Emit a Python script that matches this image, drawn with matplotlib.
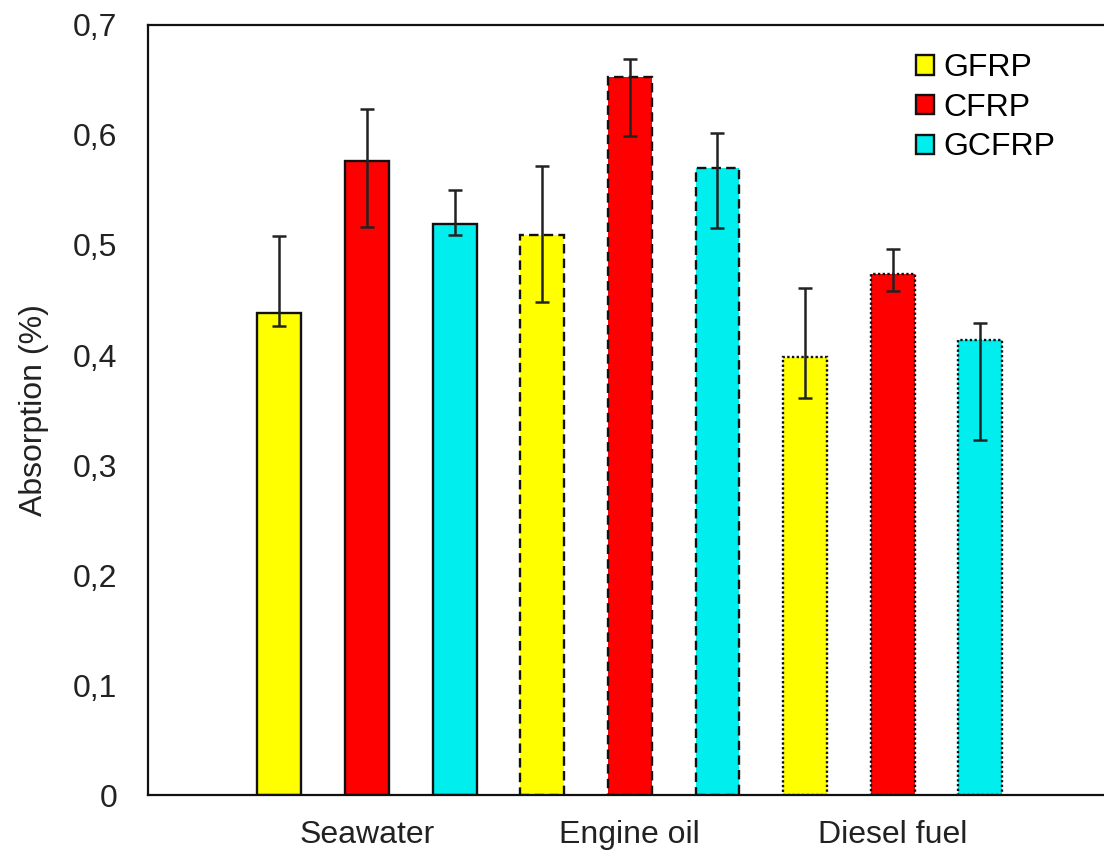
import numpy as np
import matplotlib
matplotlib.use("Agg")
import matplotlib.pyplot as plt
from matplotlib.patches import Patch

# absorption (%) per medium and laminate, with lower/upper ends of the error bars
media = ["Seawater", "Engine oil", "Diesel fuel"]
materials = ["GFRP", "CFRP", "GCFRP"]
colors = ["#ffff00", "#ff0000", "#00eeee"]
edge_styles = ["solid", (0, (4, 2.2)), (0, (1, 1))]

gfrp = [0.438, 0.509, 0.398]
cfrp = [0.576, 0.653, 0.474]
gcfrp = [0.519, 0.570, 0.414]

gfrp_lo = [0.426, 0.448, 0.361]
gfrp_hi = [0.508, 0.572, 0.461]
cfrp_lo = [0.516, 0.599, 0.458]
cfrp_hi = [0.624, 0.669, 0.496]
gcfrp_lo = [0.509, 0.515, 0.323]
gcfrp_hi = [0.550, 0.602, 0.429]

yticks = [0, 0.1, 0.2, 0.3, 0.4, 0.5, 0.6, 0.7]
ytick_labels = ["0", "0,1", "0,2", "0,3", "0,4", "0,5", "0,6", "0,7"]

plt.rcParams['font.family'] = ['Liberation Sans', 'DejaVu Sans']
FS = 23

fig = plt.figure(figsize=(11.04, 8.59), dpi=100)
ax = fig.add_axes([0.134, 0.0745, 0.873, 0.8964])

values = [gfrp, cfrp, gcfrp]
lows = [gfrp_lo, cfrp_lo, gcfrp_lo]
highs = [gfrp_hi, cfrp_hi, gcfrp_hi]

x = np.arange(len(media))
width = 0.167
offsets = [-1 / 3, 0, 1 / 3]

for i, mat in enumerate(materials):
    vals = np.array(values[i])
    err = np.vstack([vals - np.array(lows[i]), np.array(highs[i]) - vals])
    for j in range(len(media)):
        ax.bar(x[j] + offsets[i], vals[j], width, color=colors[i],
               edgecolor="#111111", linewidth=1.7, linestyle=edge_styles[j],
               zorder=2)
    ax.errorbar(x + offsets[i], vals, yerr=err, fmt="none", ecolor="#222222",
                elinewidth=1.8, capsize=5, capthick=1.8, zorder=3)

ax.set_xlim(-0.833, 2.833)
ax.set_ylim(0, 0.7)
ax.set_yticks(yticks)
ax.set_yticklabels(ytick_labels)
ax.set_xticks(x)
ax.set_xticklabels(media)
ax.tick_params(axis="both", length=0, labelsize=FS, colors="#222222")
ax.tick_params(axis="y", pad=22)
ax.tick_params(axis="x", pad=18)
ax.set_ylabel("Absorption (%)", fontsize=FS, color="#222222", labelpad=17)

for s in ax.spines.values():
    s.set_linewidth(1.6)
    s.set_color("#111111")

handles = [Patch(facecolor=c, edgecolor="#111111", linewidth=1.7) for c in colors]
ax.legend(handles, materials, loc="upper left", bbox_to_anchor=(0.83, 0.938),
          bbox_transform=fig.transFigure, frameon=False, fontsize=FS,
          handlelength=0.55, handleheight=0.55, handletextpad=0.3,
          labelspacing=0.3, borderaxespad=0, borderpad=0)

fig.savefig("out.png", dpi=100)
